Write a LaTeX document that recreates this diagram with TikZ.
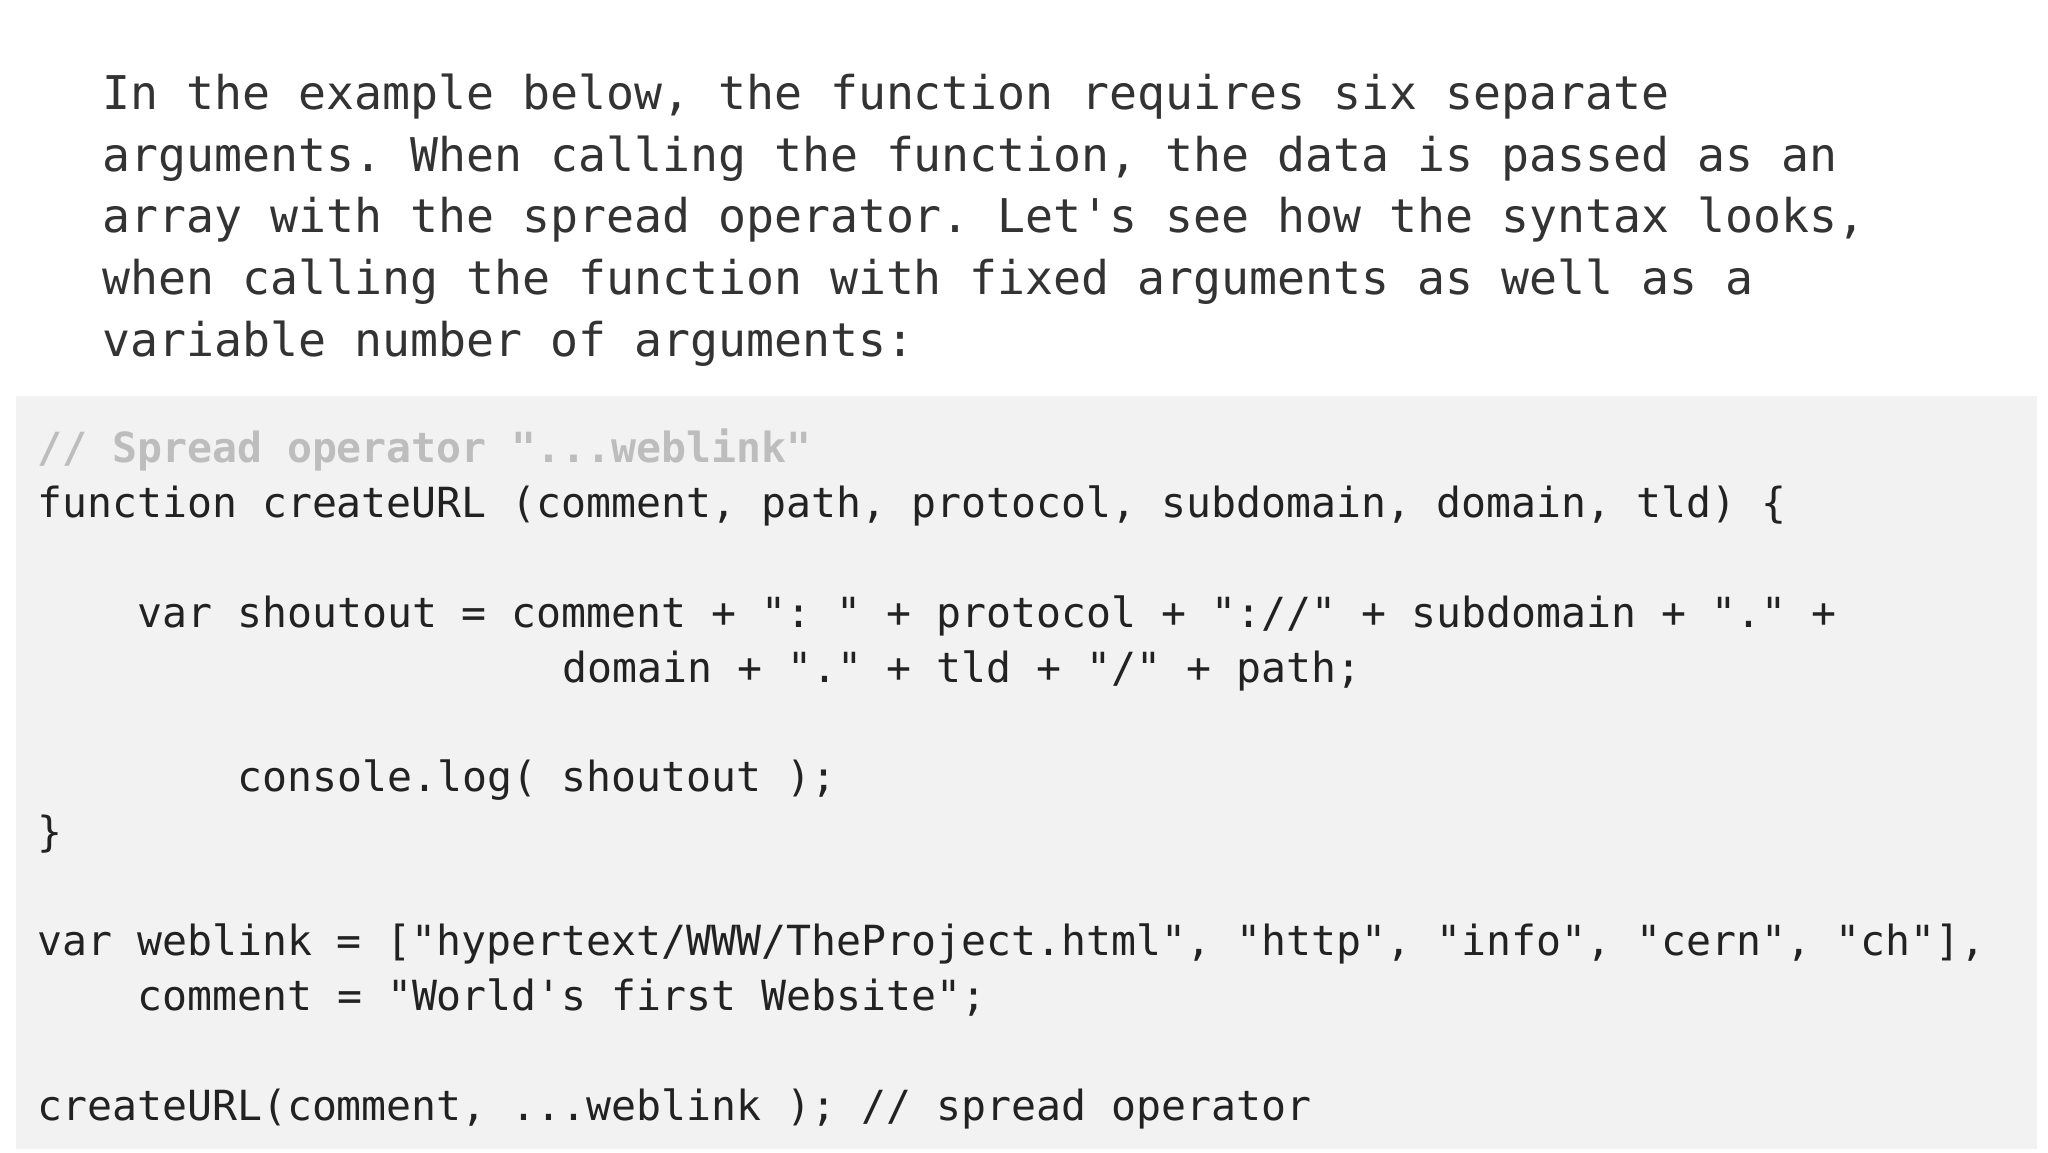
\documentclass[tikz,border=0pt]{standalone}
\usepackage{fontspec}
\setmonofont{DejaVu Sans Mono}
\definecolor{para}{HTML}{333333}
\definecolor{code}{HTML}{222222}
\definecolor{cmt}{HTML}{BDBDBD}
\definecolor{box}{HTML}{F2F2F2}
\tikzset{
  ptext/.style={anchor=base west,inner sep=0pt,text=para,font=\fontsize{46.5}{56}\selectfont\ttfamily},
  ctext/.style={anchor=base west,inner sep=0pt,text=code,font=\fontsize{41.5}{50}\selectfont\ttfamily},
}
\begin{document}
\begin{tikzpicture}[x=1pt,y=-1pt]
\useasboundingbox[fill=white] (0,0) rectangle (2048,1152);
\fill[box] (16,396) rectangle (2037,1149);
\node[ptext] (p1) at (102,109) {In the example below, the function requires six separate};
\node[ptext] (p2) at (102,171) {arguments. When calling the function, the data is passed as an};
\node[ptext] (p3) at (102,232) {array with the spread operator. Let's see how the syntax looks,};
\node[ptext] (p4) at (102,294) {when calling the function with fixed arguments as well as a};
\node[ptext] (p5) at (102,356) {variable number of arguments:};
\def\cw{25}
\node[ctext,text=cmt,font=\fontsize{41.5}{50}\selectfont\ttfamily\bfseries] (c1) at (37,462) {// Spread operator "...weblink"};
\node[ctext] (c2) at (37,517) {function createURL (comment, path, protocol, subdomain, domain, tld) \{};
\node[ctext] (c3) at (137,627) {var shoutout = comment + ": " + protocol + "://" + subdomain + "." +};
\node[ctext] (c4) at (562,682) {domain + "." + tld + "/" + path;};
\node[ctext] (c5) at (237,791) {console.log( shoutout );};
\node[ctext] (c6) at (37,846) {\}};
\node[ctext] (c7) at (37,955) {var weblink = ["hypertext/WWW/TheProject.html", "http", "info", "cern", "ch"],};
\node[ctext] (c8) at (137,1010) {comment = "World's first Website";};
\node[ctext] (c9) at (37,1120) {createURL(comment, ...weblink ); // spread operator};
\end{tikzpicture}
\end{document}
